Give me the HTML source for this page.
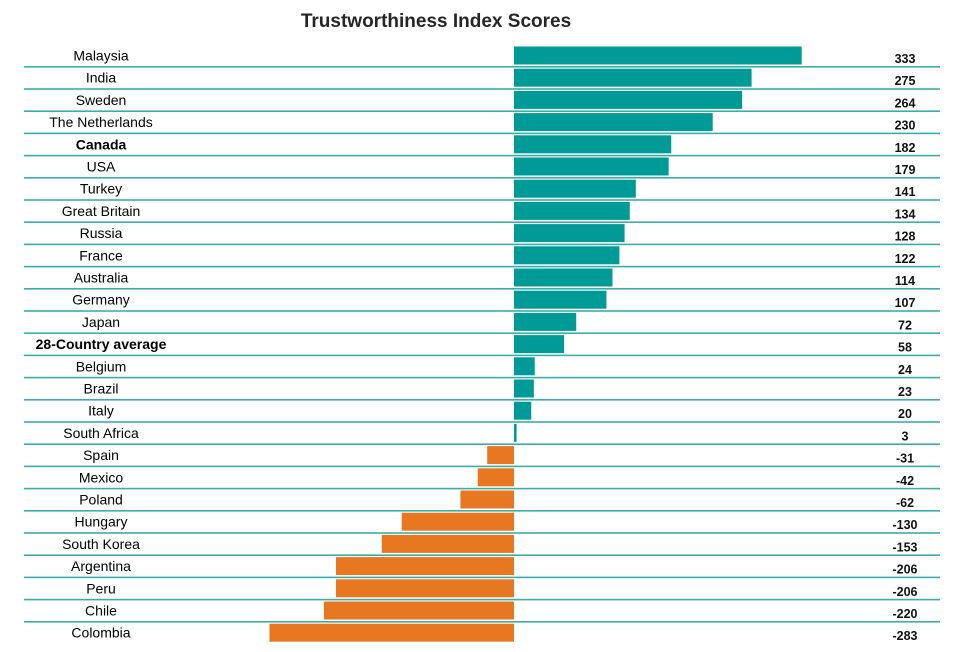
<!DOCTYPE html>
<html><head><meta charset="utf-8"><style>
body{margin:0;background:#fff;}
svg{display:block;font-family:"Liberation Sans",sans-serif;}
</style></head><body>
<svg id="chart" width="972" height="652">
<text x="436" y="27" text-anchor="middle" font-size="19" font-weight="bold" fill="#262626">Trustworthiness Index Scores</text>
</svg>
<script>
const countries=["Malaysia","India","Sweden","The Netherlands","Canada","USA","Turkey","Great Britain","Russia","France","Australia","Germany","Japan","28-Country average","Belgium","Brazil","Italy","South Africa","Spain","Mexico","Poland","Hungary","South Korea","Argentina","Peru","Chile","Colombia"];
const scores=[333,275,264,230,182,179,141,134,128,122,114,107,72,58,24,23,20,3,-31,-42,-62,-130,-153,-206,-206,-220,-283];
const boldRows=["Canada","28-Country average"];
const svg=document.getElementById('chart');
const NS='http://www.w3.org/2000/svg';
const x0=514,k=0.864,rowH=22.2;
const xs=v=>x0+v*k;
const yRow=i=>46.5+i*rowH;
function mk(t,a){const e=document.createElementNS(NS,t);for(const q in a)e.setAttribute(q,a[q]);svg.appendChild(e);return e;}
for(let i=0;i<countries.length-1;i++){
  const l=mk('rect',{x:24,y:yRow(i)+19.5,width:916,height:1.6,fill:'#3aaea8'});
  
  
}
countries.forEach((c,i)=>{
  const v=scores[i];
  const b=mk('rect',{x:Math.min(xs(0),xs(v)),y:yRow(i),width:Math.max(1.5,Math.abs(xs(v)-xs(0))),height:18,fill:v>=0?'#009b96':'#e87722'});
  
  
  const t=mk('text',{x:101,y:yRow(i)+14,'text-anchor':'middle','font-size':14,fill:'#000','font-weight':boldRows.includes(c)?'bold':'normal'});
  t.textContent=c;
  
  
  const n=mk('text',{x:905,y:yRow(i)+16.5,'text-anchor':'middle','font-size':12.5,'font-weight':'bold',fill:'#111'});
  n.textContent=v;
  
  
});
</script>
</body></html>
